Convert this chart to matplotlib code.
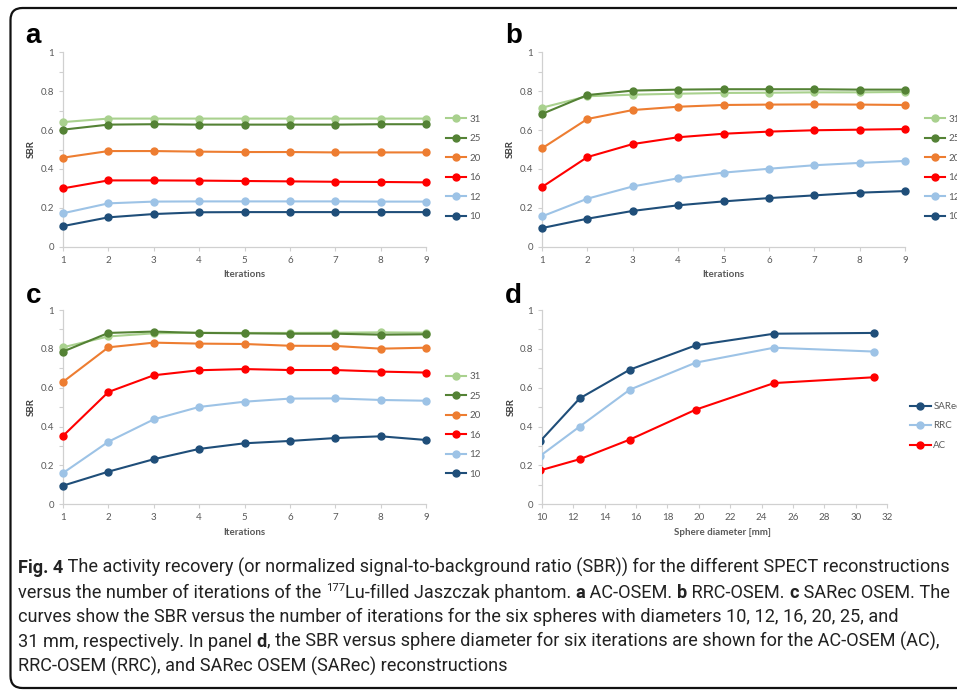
import matplotlib
matplotlib.use('Agg')
import matplotlib.pyplot as plt
from matplotlib.patches import FancyBboxPatch
from matplotlib.transforms import IdentityTransform
from matplotlib import font_manager as fm

# data
iterations = [1, 2, 3, 4, 5, 6, 7, 8, 9]
sphere_labels = ['31', '25', '20', '16', '12', '10']
sphere_colors = ['#a9d18e', '#548235', '#ed7d31', '#ff0000', '#9dc3e6', '#1f4e79']

# panel a: AC-OSEM (rows: 31, 25, 20, 16, 12, 10 mm)
ac_osem = [
    [0.641, 0.659, 0.659, 0.659, 0.659, 0.659, 0.659, 0.659, 0.659],
    [0.602, 0.628, 0.630, 0.628, 0.628, 0.628, 0.628, 0.630, 0.630],
    [0.458, 0.492, 0.492, 0.489, 0.487, 0.487, 0.485, 0.485, 0.485],
    [0.300, 0.341, 0.341, 0.340, 0.338, 0.336, 0.334, 0.333, 0.331],
    [0.172, 0.223, 0.232, 0.233, 0.233, 0.233, 0.233, 0.232, 0.232],
    [0.106, 0.151, 0.168, 0.177, 0.178, 0.178, 0.178, 0.178, 0.178],
]
# panel b: RRC-OSEM
rrc_osem = [
    [0.715, 0.774, 0.782, 0.787, 0.791, 0.792, 0.794, 0.794, 0.796],
    [0.683, 0.780, 0.803, 0.808, 0.810, 0.810, 0.810, 0.808, 0.808],
    [0.506, 0.657, 0.703, 0.720, 0.729, 0.731, 0.732, 0.731, 0.729],
    [0.307, 0.461, 0.528, 0.563, 0.581, 0.592, 0.599, 0.602, 0.605],
    [0.156, 0.247, 0.310, 0.352, 0.381, 0.401, 0.419, 0.431, 0.441],
    [0.096, 0.144, 0.184, 0.213, 0.233, 0.250, 0.264, 0.278, 0.286],
]
# panel c: SARec OSEM
sarec_osem = [
    [0.808, 0.864, 0.880, 0.883, 0.882, 0.882, 0.883, 0.885, 0.883],
    [0.786, 0.882, 0.889, 0.882, 0.880, 0.878, 0.878, 0.873, 0.875],
    [0.630, 0.808, 0.832, 0.827, 0.825, 0.816, 0.815, 0.801, 0.806],
    [0.352, 0.578, 0.664, 0.690, 0.696, 0.691, 0.691, 0.683, 0.678],
    [0.161, 0.322, 0.437, 0.501, 0.528, 0.544, 0.545, 0.537, 0.533],
    [0.096, 0.168, 0.232, 0.285, 0.314, 0.326, 0.341, 0.350, 0.331],
]
# panel d: SBR vs sphere diameter, six iterations
diameters = [9.9, 12.4, 15.6, 19.8, 24.8, 31.2]
recon_labels = ['SARec', 'RRC', 'AC']
recon_colors = ['#1f4e79', '#9dc3e6', '#ff0000']
sbr_sarec = [0.326, 0.545, 0.693, 0.818, 0.878, 0.882]
sbr_rrc = [0.250, 0.400, 0.590, 0.729, 0.806, 0.786]
sbr_ac = [0.175, 0.232, 0.333, 0.487, 0.624, 0.654]

avail = {f.name for f in fm.fontManager.ttflist}
chart_font = 'Lato' if 'Lato' in avail else 'DejaVu Sans'
cap_font = next((f for f in ['Liberation Sans Narrow', 'DejaVu Sans Condensed', 'Roboto', 'Open Sans']
                 if f in avail), 'DejaVu Sans')

plt.rcParams['font.family'] = [chart_font, 'DejaVu Sans']
W, H = 957, 691
fig = plt.figure(figsize=(W / 100, H / 100), dpi=100)
grey_txt = '#595959'
axis_col = '#d0d0d0'


def style_axes(ax, xlim, xticks, xlabel, xlabel_x=0.5):
    ax.set_xlim(*xlim)
    ax.set_ylim(0, 1)
    ax.set_xticks(xticks)
    ax.set_yticks([0, 0.2, 0.4, 0.6, 0.8, 1])
    ax.set_yticklabels(['0', '0.2', '0.4', '0.6', '0.8', '1'])
    ax.set_yticks([0.1, 0.3, 0.5, 0.7, 0.9], minor=True)
    for s in ['top', 'right']:
        ax.spines[s].set_visible(False)
    for s in ['left', 'bottom']:
        ax.spines[s].set_color(axis_col)
        ax.spines[s].set_linewidth(0.9)
    ax.tick_params(which='both', colors=axis_col, labelcolor=grey_txt, labelsize=7,
                   length=3, width=0.8, pad=3.5)
    ax.set_ylabel('SBR', fontsize=7, fontweight='bold', color='#404040', va='center')
    ax.yaxis.set_label_coords(-0.088, 0.5)
    ax.set_xlabel(xlabel, fontsize=7, fontweight='bold', color=grey_txt)
    ax.xaxis.set_label_coords(xlabel_x, -0.122)


def px_axes(left, top, right, bottom):
    return fig.add_axes([left / W, 1 - bottom / H, (right - left) / W, (bottom - top) / H])


def panel_letter(x, y_from_top, letter):
    fig.text(x, H - y_from_top, letter, fontsize=20, fontweight='bold',
             family=['Liberation Sans', 'DejaVu Sans'], ha='left', va='baseline',
             transform=IdentityTransform())


panels = [
    (ac_osem, (63, 52.3, 426, 246.7), 'a', (25, 43)),
    (rrc_osem, (542, 52.3, 905, 246.7), 'b', (505, 43)),
    (sarec_osem, (63, 310, 426, 504.3), 'c', (26, 303)),
]
for data, box, letter, lpos in panels:
    ax = px_axes(*box)
    for i, (vals, lab, col) in enumerate(zip(data, sphere_labels, sphere_colors)):
        ax.plot(iterations, vals, color=col, lw=1.5, marker='o', ms=5, label=lab,
                zorder=3 + i, clip_on=False)
    style_axes(ax, (1, 9), iterations, 'Iterations')
    ax.legend(loc='center left', bbox_to_anchor=(1.055, 0.405), frameon=False, fontsize=7,
              handlelength=2.1, handletextpad=0.3, labelspacing=1.08, borderaxespad=0,
              borderpad=0, labelcolor=grey_txt)
    panel_letter(lpos[0], lpos[1], letter)

axd = px_axes(542, 310, 887, 504.3)
for i, (vals, lab, col) in enumerate(zip([sbr_sarec, sbr_rrc, sbr_ac], recon_labels, recon_colors)):
    axd.plot(diameters, vals, color=col, lw=1.5, marker='o', ms=5, label=lab, zorder=3 + i)
style_axes(axd, (10, 32), list(range(10, 33, 2)), 'Sphere diameter [mm]', xlabel_x=0.522)
axd.legend(loc='center left', bbox_to_anchor=(1.067, 0.403), frameon=False, fontsize=7,
           handlelength=2.1, handletextpad=0.3, labelspacing=1.08, borderaxespad=0,
           borderpad=0, labelcolor=grey_txt)
panel_letter(505, 303, 'd')

# rounded frame around the figure
frame = FancyBboxPatch((10.5, 3), 990, 680, boxstyle='round,pad=0,rounding_size=12',
                       transform=IdentityTransform(), fill=False, ec='#111111', lw=1.6)
fig.add_artist(frame)

# caption, drawn run by run so the bold parts can sit inline
caption = [
    [("Fig. 4", 'bold'), (" The activity recovery (or normalized signal-to-background ratio (SBR)) for the different SPECT reconstructions", 'normal')],
    [("versus the number of iterations of the ", 'normal'), ("177", 'sup'), ("Lu-filled Jaszczak phantom. ", 'normal'),
     ("a", 'bold'), (" AC-OSEM. ", 'normal'), ("b", 'bold'), (" RRC-OSEM. ", 'normal'), ("c", 'bold'),
     (" SARec OSEM. The", 'normal')],
    [("curves show the SBR versus the number of iterations for the six spheres with diameters 10, 12, 16, 20, 25, and", 'normal')],
    [("31 mm, respectively. In panel ", 'normal'), ("d", 'bold'),
     (", the SBR versus sphere diameter for six iterations are shown for the AC-OSEM (AC),", 'normal')],
    [("RRC-OSEM (RRC), and SARec OSEM (SARec) reconstructions", 'normal')],
]

renderer = fig.canvas.get_renderer()


def text_w(s, size, weight):
    t = fig.text(0, 0, 'x' + s + 'x', fontsize=size, fontweight=weight, family=cap_font)
    t2 = fig.text(0, 0, 'xx', fontsize=size, fontweight=weight, family=cap_font)
    w = t.get_window_extent(renderer).width - t2.get_window_extent(renderer).width
    t.remove()
    t2.remove()
    return w


# size the caption font so the first line spans like the original (about 937 px)
probe = text_w(caption[0][0][0], 10, 'bold') + text_w(caption[0][1][0], 10, 'normal')
cap_size = 10 * 930 / probe

x0, y_top, step = 18, 573, 24.7
for li, runs in enumerate(caption):
    x = x0
    y = H - (y_top + li * step)
    for txt, kind in runs:
        if kind == 'sup':
            fs = cap_size * 0.62
            fig.text(x, y + cap_size * 0.55, txt, fontsize=fs, family=cap_font, color='#222222',
                     transform=IdentityTransform(), ha='left', va='baseline')
            x += text_w(txt, fs, 'normal')
        else:
            fig.text(x, y, txt, fontsize=cap_size, fontweight=kind, family=cap_font, color='#222222',
                     transform=IdentityTransform(), ha='left', va='baseline')
            x += text_w(txt, cap_size, kind)

fig.savefig('out.png', dpi=100)
